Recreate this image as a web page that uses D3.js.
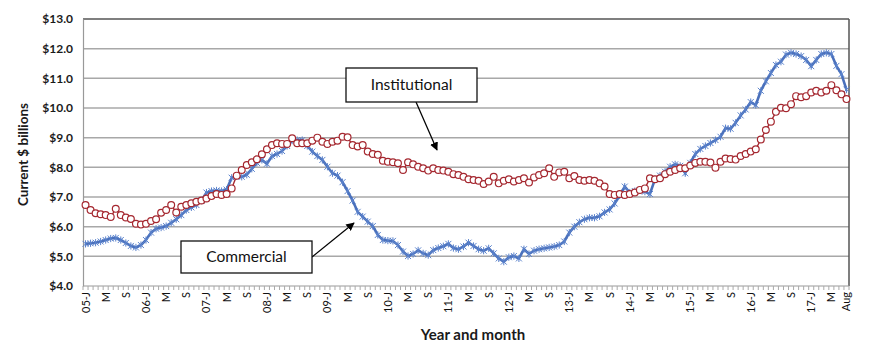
<!DOCTYPE html>
<html>
<head>
<meta charset="utf-8">
<script src="https://cdn.jsdelivr.net/npm/d3@7.9.0/dist/d3.min.js"></script>
<style>
  body { margin: 0; background: #fff; }
  svg { display: block; }
</style>
</head>
<body>
<svg id="chart" width="870" height="352"></svg>
<script>
// monthly categories, Jan 2005 .. Aug 2017
const months = [];
for (let yr = 2005; yr <= 2017; yr++) {
  for (let m = 1; m <= 12; m++) {
    if (yr === 2017 && m > 8) break;
    months.push(`${yr}-${String(m).padStart(2, "0")}`);
  }
}

const commercial = [
  5.42, 5.44, 5.46, 5.50, 5.55, 5.60, 5.62, 5.55, 5.45, 5.35, 5.30, 5.38,
  5.55, 5.80, 5.93, 5.97, 6.02, 6.13, 6.25, 6.39, 6.56, 6.65, 6.73, 6.88,
  7.15, 7.20, 7.22, 7.20, 7.25, 7.65, 7.70, 7.68, 7.75, 7.95, 8.15, 8.25,
  8.12, 8.38, 8.45, 8.55, 8.72, 8.90, 8.92, 8.92, 8.72, 8.53, 8.38, 8.25,
  8.02, 7.80, 7.72, 7.50, 7.20, 6.88, 6.50, 6.34, 6.17, 6.02, 5.72, 5.55,
  5.53, 5.52, 5.38, 5.16, 5.01, 5.08, 5.20, 5.10, 5.04, 5.21, 5.28, 5.34,
  5.42, 5.28, 5.24, 5.33, 5.46, 5.35, 5.24, 5.19, 5.27, 5.10, 4.93, 4.82,
  4.97, 5.01, 4.93, 5.24, 5.08, 5.19, 5.24, 5.27, 5.30, 5.33, 5.38, 5.50,
  5.80, 6.00, 6.15, 6.25, 6.30, 6.30, 6.35, 6.48, 6.58, 6.78, 7.05, 7.35,
  7.15, 7.20, 7.22, 7.18, 7.10, 7.60, 7.72, 7.85, 8.02, 8.10, 8.05, 7.80,
  8.15, 8.45, 8.62, 8.72, 8.82, 8.92, 9.03, 9.32, 9.30, 9.50, 9.75, 9.95,
  10.20, 10.10, 10.58, 10.90, 11.18, 11.45, 11.56, 11.80, 11.86, 11.82, 11.75, 11.62,
  11.41, 11.62, 11.82, 11.86, 11.82, 11.42, 11.14, 10.62
];

const institutional = [
  6.73, 6.56, 6.45, 6.42, 6.39, 6.33, 6.60, 6.39, 6.31, 6.26, 6.10, 6.07,
  6.10, 6.19, 6.25, 6.47, 6.56, 6.73, 6.48, 6.67, 6.73, 6.79, 6.84, 6.88,
  6.95, 7.03, 7.10, 7.07, 7.10, 7.29, 7.72, 7.91, 8.08, 8.17, 8.27, 8.44,
  8.61, 8.75, 8.81, 8.79, 8.79, 8.98, 8.81, 8.81, 8.81, 8.90, 9.00, 8.86,
  8.79, 8.86, 8.90, 9.03, 9.01, 8.75, 8.70, 8.75, 8.53, 8.45, 8.42, 8.22,
  8.19, 8.17, 8.14, 7.91, 8.17, 8.10, 8.02, 7.97, 7.89, 7.97, 7.91, 7.89,
  7.85, 7.77, 7.74, 7.68, 7.60, 7.57, 7.55, 7.44, 7.52, 7.68, 7.46, 7.55,
  7.60, 7.52, 7.57, 7.63, 7.49, 7.66, 7.74, 7.80, 7.97, 7.68, 7.83, 7.85,
  7.63, 7.71, 7.57, 7.55, 7.57, 7.55, 7.46, 7.35, 7.10, 7.07, 7.10, 7.07,
  7.10, 7.15, 7.24, 7.29, 7.63, 7.60, 7.63, 7.77, 7.85, 7.91, 7.97, 7.97,
  8.06, 8.15, 8.19, 8.19, 8.16, 7.99, 8.19, 8.30, 8.28, 8.26, 8.38, 8.45,
  8.53, 8.61, 8.94, 9.26, 9.54, 9.87, 10.01, 9.99, 10.13, 10.40, 10.36, 10.40,
  10.52, 10.58, 10.52, 10.58, 10.77, 10.60, 10.46, 10.30
];

// labels every 4 months, plus the final month
const tickLabels = [
  "05-J", "M", "S", "06-J", "M", "S", "07-J", "M", "S", "08-J", "M", "S",
  "09-J", "M", "S", "10-J", "M", "S", "11-J", "M", "S", "12-J", "M", "S",
  "13-J", "M", "S", "14-J", "M", "S", "15-J", "M", "S", "16-J", "M", "S",
  "17-J", "M", "Aug"
];
const tickMonths = months.filter((d, i) => i % 4 === 0).concat([months[months.length - 1]]);

const yTicks = [4, 5, 6, 7, 8, 9, 10, 11, 12, 13];

const font = "'Century Gothic', Lato, 'Open Sans', sans-serif";
const blue = "#4a70bb";
const red = "#a52830";

const svg = d3.select("#chart");
const plotLeft = 83, plotRight = 849, plotTop = 19, plotBottom = 286;

const x = d3.scaleBand().domain(months).range([plotLeft, plotRight]);
const cx = (m) => x(m) + x.bandwidth() / 2;
const y = d3.scaleLinear().domain([4, 13]).range([plotBottom, plotTop]);

// gridlines
svg.append("g")
  .selectAll("line")
  .data(yTicks.slice(1, -1))
  .join("line")
  .attr("x1", plotLeft).attr("x2", plotRight)
  .attr("y1", (d) => y(d)).attr("y2", (d) => y(d))
  .attr("stroke", "#a8a8a8")
  .attr("stroke-width", 1.5);

// plot border: top + right darker
svg.append("line")
  .attr("x1", plotLeft).attr("x2", plotRight).attr("y1", y(13)).attr("y2", y(13))
  .attr("stroke", "#555").attr("stroke-width", 1.5);
svg.append("line")
  .attr("x1", plotRight).attr("x2", plotRight).attr("y1", y(13)).attr("y2", y(4))
  .attr("stroke", "#555").attr("stroke-width", 1.5);

// y axis
const yAxis = svg.append("g")
  .attr("transform", `translate(${plotLeft},0)`)
  .call(d3.axisLeft(y).tickValues(yTicks).tickSize(0).tickPadding(10).tickFormat((d) => "$" + d.toFixed(1)));
yAxis.select(".domain").attr("stroke", "#999").attr("stroke-width", 1.2);
yAxis.selectAll("text")
  .style("font-family", font)
  .style("font-size", "12px")
  .style("font-weight", "bold")
  .attr("fill", "#1a1a1a");

// x axis with a small tick at every month boundary
const boundaries = months.map((m) => x(m)).concat([plotRight]);
svg.append("line")
  .attr("x1", plotLeft).attr("x2", plotRight).attr("y1", plotBottom).attr("y2", plotBottom)
  .attr("stroke", "#999").attr("stroke-width", 1.2);
svg.append("g")
  .selectAll("line")
  .data(boundaries)
  .join("line")
  .attr("x1", (d) => d).attr("x2", (d) => d)
  .attr("y1", plotBottom).attr("y2", plotBottom + 4)
  .attr("stroke", "#aaa")
  .attr("stroke-width", 1);

svg.append("g")
  .selectAll("text")
  .data(tickMonths)
  .join("text")
  .attr("transform", (d) => `translate(${cx(d) + 4},${plotBottom + 6}) rotate(-90)`)
  .attr("text-anchor", "end")
  .style("font-family", font)
  .style("font-size", "11px")
  .attr("fill", "#111")
  .text((d, i) => tickLabels[i]);

// axis titles
svg.append("text")
  .attr("transform", `translate(28,${(plotTop + plotBottom) / 2 + 2}) rotate(-90)`)
  .attr("text-anchor", "middle")
  .style("font-family", font)
  .style("font-size", "13.5px")
  .style("font-weight", "bold")
  .attr("fill", "#1a1a1a")
  .text("Current $ billions");

svg.append("text")
  .attr("x", 473)
  .attr("y", 340)
  .attr("text-anchor", "middle")
  .style("font-family", font)
  .style("font-size", "15px")
  .style("font-weight", "bold")
  .attr("fill", "#1a1a1a")
  .text("Year and month");

// series
const line = (vals) => d3.line().x((d, i) => cx(months[i])).y((d) => y(d))(vals);

svg.append("path")
  .attr("d", line(commercial))
  .attr("fill", "none")
  .attr("stroke", blue)
  .attr("stroke-width", 2.6);

svg.append("g")
  .selectAll("path")
  .data(commercial)
  .join("path")
  .attr("transform", (d, i) => `translate(${cx(months[i])},${y(d)})`)
  .attr("d", "M-3,-3L3,3M-3,3L3,-3M0,-3.6L0,3.6")
  .attr("stroke", "#5a82cc")
  .attr("stroke-width", 1);

svg.append("path")
  .attr("d", line(institutional))
  .attr("fill", "none")
  .attr("stroke", red)
  .attr("stroke-width", 1.4);

svg.append("g")
  .selectAll("circle")
  .data(institutional)
  .join("circle")
  .attr("cx", (d, i) => cx(months[i]))
  .attr("cy", (d) => y(d))
  .attr("r", 3.4)
  .attr("fill", "#fff")
  .attr("stroke", red)
  .attr("stroke-width", 1.2);

// annotation callouts
svg.append("defs").append("marker")
  .attr("id", "arrow")
  .attr("viewBox", "0 0 10 10")
  .attr("refX", 9).attr("refY", 5)
  .attr("markerWidth", 7).attr("markerHeight", 7)
  .attr("orient", "auto")
  .append("path")
  .attr("d", "M0,0L10,5L0,10Z")
  .attr("fill", "#000");

function callout(label, bx, by, bw, bh, x1, y1, x2, y2) {
  svg.append("line")
    .attr("x1", x1).attr("y1", y1).attr("x2", x2).attr("y2", y2)
    .attr("stroke", "#000").attr("stroke-width", 1.2)
    .attr("marker-end", "url(#arrow)");
  svg.append("rect")
    .attr("x", bx).attr("y", by).attr("width", bw).attr("height", bh)
    .attr("fill", "#fff").attr("stroke", "#111").attr("stroke-width", 1.3);
  svg.append("text")
    .attr("x", bx + bw / 2).attr("y", by + bh / 2)
    .attr("dy", "0.35em")
    .attr("text-anchor", "middle")
    .style("font-family", font)
    .style("font-size", "15.5px")
    .attr("fill", "#111")
    .text(label);
}

callout("Institutional", 346, 68, 131, 34, 416, 102, 437, 150);
callout("Commercial", 181, 241, 131, 32, 312, 257, 354, 223);
</script>
</body>
</html>
